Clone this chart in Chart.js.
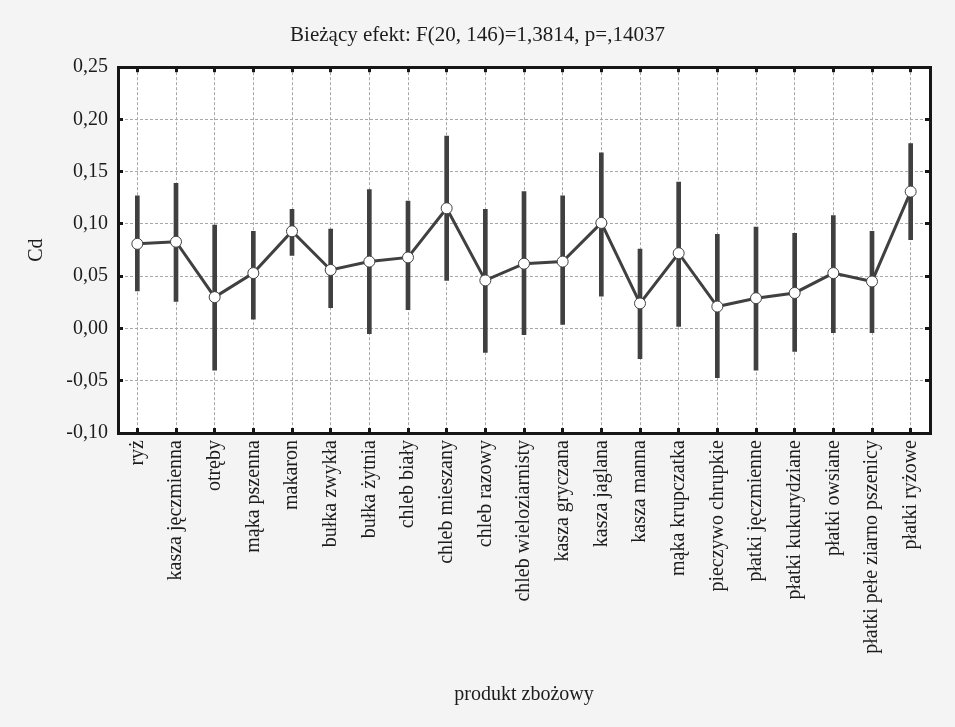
<!DOCTYPE html>
<html>
<head>
<meta charset="utf-8">
<script src="https://cdn.jsdelivr.net/npm/chart.js@4/dist/chart.umd.min.js"></script>
<style>
  html, body { margin: 0; padding: 0; background: #f4f4f4; }
  #wrap { width: 955px; height: 727px; position: relative; }
</style>
</head>
<body>
<div id="wrap"><canvas id="cdChart"></canvas></div>
<script>
// chart data
const categories = ['ryż', 'kasza jęczmienna', 'otręby', 'mąka pszenna', 'makaron', 'bułka zwykła',
    'bułka żytnia', 'chleb biały', 'chleb mieszany', 'chleb razowy', 'chleb wieloziarnisty',
    'kasza gryczana', 'kasza jaglana', 'kasza manna', 'mąka krupczatka', 'pieczywo chrupkie',
    'płatki jęczmienne', 'płatki kukurydziane', 'płatki owsiane', 'płatki pełe ziarno pszenicy', 'płatki ryżowe'];
const means = [0.081, 0.083, 0.030, 0.053, 0.093, 0.056, 0.064, 0.068, 0.115, 0.046, 0.062,
    0.064, 0.101, 0.024, 0.072, 0.021, 0.029, 0.034, 0.053, 0.045, 0.131];
const upper = [0.127, 0.139, 0.099, 0.093, 0.114, 0.095, 0.133, 0.122, 0.184, 0.114, 0.131,
    0.127, 0.168, 0.076, 0.140, 0.090, 0.097, 0.091, 0.108, 0.093, 0.177];
const lower = [0.036, 0.026, -0.040, 0.009, 0.070, 0.020, -0.005, 0.018, 0.046, -0.023, -0.006,
    0.004, 0.031, -0.029, 0.002, -0.047, -0.040, -0.022, -0.004, -0.004, 0.085];
const yMin = -0.10;
const yMax = 0.25;
const yStep = 0.05;

const chartTitle = 'Bieżący efekt: F(20, 146)=1,3814, p=,14037';
const xTitle = 'produkt zbożowy';
const yTitle = 'Cd';

const FONT = "'Liberation Serif', 'Times New Roman', serif";
const INK = '#1c1c1c';
const MARK = '#404040';

Chart.defaults.font.family = FONT;
Chart.defaults.color = INK;

// white plot area on grey page
const plotBackground = {
    id: 'plotBackground',
    beforeDraw(chart) {
        const { ctx, chartArea: a } = chart;
        ctx.save();
        ctx.fillStyle = '#ffffff';
        ctx.fillRect(a.left, a.top, a.right - a.left, a.bottom - a.top);
        ctx.restore();
    }
};

const fmtTick = v => (Math.round(v * 100) / 100).toFixed(2).replace('.', ',');

// in v4 border.dash styles the grid lines, the frame itself stays solid
const frameBorder = { display: true, width: 3, color: '#161616', dash: [3, 2] };
const dashedGrid = {
    color: '#a8a8a8',
    lineWidth: 1,
    tickLength: -5,
    tickWidth: 3,
    tickColor: '#161616',
    tickBorderDash: []
};

new Chart(document.getElementById('cdChart'), {
    type: 'bar',
    data: {
        labels: categories,
        datasets: [
            {
                type: 'line',
                label: 'Cd',
                data: means,
                borderColor: MARK,
                borderWidth: 3,
                pointRadius: 5.5,
                pointBackgroundColor: '#ffffff',
                pointBorderColor: MARK,
                pointBorderWidth: 1,
                tension: 0,
                order: 1
            },
            {
                type: 'bar',
                label: 'przedział',
                data: lower.map((lo, i) => [lo, upper[i]]),
                backgroundColor: MARK,
                borderWidth: 0,
                barThickness: 4,
                order: 2
            }
        ]
    },
    options: {
        responsive: true,
        maintainAspectRatio: false,
        animation: false,
        layout: { padding: 0 },
        plugins: {
            legend: { display: false },
            tooltip: { enabled: false },
            title: {
                display: true,
                text: chartTitle,
                color: INK,
                font: { size: 21, weight: 'normal' },
                padding: { top: 23, bottom: 19 }
            }
        },
        scales: {
            x: {
                type: 'category',
                position: 'bottom',
                offset: true,
                border: frameBorder,
                grid: { ...dashedGrid, offset: false },
                ticks: {
                    autoSkip: false,
                    minRotation: 90,
                    maxRotation: 90,
                    padding: 12,
                    font: { size: 20 }
                },
                title: {
                    display: true,
                    text: xTitle,
                    font: { size: 20 },
                    padding: { top: 0, bottom: 20 }
                },
                afterFit: s => { s.height = 294; }
            },
            xTop: {
                type: 'category',
                position: 'top',
                offset: true,
                border: frameBorder,
                grid: { ...dashedGrid, offset: false, drawOnChartArea: false },
                ticks: { display: false, autoSkip: false },
                afterFit: s => { s.height = 0; }
            },
            y: {
                position: 'left',
                min: yMin,
                max: yMax,
                border: frameBorder,
                grid: dashedGrid,
                ticks: {
                    stepSize: yStep,
                    padding: 15,
                    font: { size: 20 },
                    callback: fmtTick
                },
                title: {
                    display: true,
                    text: yTitle,
                    font: { size: 20 },
                    padding: { top: 25, bottom: 0 }
                },
                afterFit: s => { s.width = 118; }
            },
            yRight: {
                position: 'right',
                min: yMin,
                max: yMax,
                border: frameBorder,
                grid: { ...dashedGrid, drawOnChartArea: false },
                ticks: { display: false, stepSize: yStep },
                afterFit: s => { s.width = 25; }
            }
        }
    },
    plugins: [plotBackground]
});
</script>
</body>
</html>
